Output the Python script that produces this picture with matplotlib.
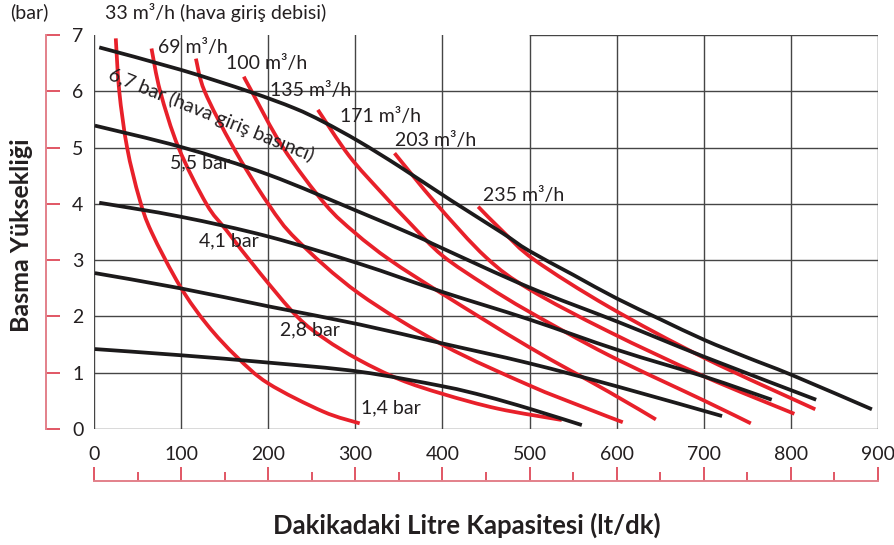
import matplotlib
matplotlib.use("Agg")
import matplotlib.pyplot as plt
from matplotlib.ticker import MultipleLocator
from matplotlib.path import Path
from matplotlib.patches import PathPatch

plt.rcParams['font.family'] = ['Lato', 'DejaVu Sans']

# air pressure curves (bar) - black
p67_x = [6, 100, 179, 230, 263, 304, 351, 409, 469, 499, 550, 600, 650, 701, 750, 801, 893]
p67_y = [6.78, 6.38, 5.99, 5.70, 5.46, 5.11, 4.66, 4.07, 3.48, 3.17, 2.74, 2.32, 1.95, 1.58, 1.27, 0.96, 0.35]
p55_x = [1, 100, 200, 304, 371, 400, 499, 602, 701, 829]
p55_y = [5.39, 5.01, 4.52, 3.86, 3.42, 3.21, 2.52, 1.90, 1.28, 0.52]
p41_x = [6, 100, 200, 304, 401, 499, 602, 701, 778]
p41_y = [4.02, 3.77, 3.42, 2.94, 2.43, 1.95, 1.40, 0.93, 0.52]
p28_x = [1, 99, 200, 304, 400, 499, 602, 721]
p28_y = [2.77, 2.50, 2.18, 1.86, 1.52, 1.17, 0.75, 0.23]
p14_x = [1, 100, 200, 304, 400, 450, 500, 560]
p14_y = [1.42, 1.31, 1.18, 1.02, 0.76, 0.58, 0.36, 0.07]

# air consumption curves (m3/h) - red
f33_x = [25, 29, 38, 52, 66, 99, 130, 164, 200, 263, 305]
f33_y = [6.94, 6.0, 5.0, 4.1, 3.5, 2.53, 1.85, 1.28, 0.81, 0.31, 0.10]
f69_x = [66, 76, 97, 129, 152, 190, 233, 265, 304, 351, 401, 464, 537]
f69_y = [6.76, 6.0, 5.0, 4.0, 3.53, 2.78, 2.0, 1.60, 1.23, 0.88, 0.62, 0.36, 0.16]
f100_x = [117, 127, 160, 200, 233, 304, 401, 499, 560, 607]
f100_y = [6.58, 6.0, 5.0, 4.0, 3.36, 2.41, 1.49, 0.78, 0.40, 0.12]
f135_x = [172, 181, 217, 265, 300, 340, 400, 500, 591, 645]
f135_y = [6.26, 6.0, 5.0, 4.0, 3.48, 3.0, 2.40, 1.45, 0.66, 0.17]
f171_x = [257, 293, 330, 365, 400, 450, 500, 591, 701, 754]
f171_y = [5.67, 4.85, 4.2, 3.62, 3.08, 2.55, 2.08, 1.31, 0.50, 0.10]
f203_x = [345, 393, 450, 500, 591, 701, 804]
f203_y = [4.90, 4.0, 3.05, 2.48, 1.73, 0.93, 0.27]
f235_x = [441, 470, 506, 591, 701, 828]
f235_y = [3.95, 3.50, 3.0, 2.17, 1.26, 0.35]

black_curves = [(p67_x, p67_y), (p55_x, p55_y), (p41_x, p41_y), (p28_x, p28_y), (p14_x, p14_y)]
red_curves = [(f33_x, f33_y), (f69_x, f69_y), (f100_x, f100_y), (f135_x, f135_y),
              (f171_x, f171_y), (f203_x, f203_y), (f235_x, f235_y)]

xticks = list(range(0, 1000, 100))
yticks = list(range(0, 8))

# labels: (text, x, y)
flow_labels = [("69 m³/h", 73, 6.78), ("100 m³/h", 152, 6.49), ("135 m³/h", 202, 6.02),
               ("171 m³/h", 282, 5.55), ("203 m³/h", 346, 5.13), ("235 m³/h", 446, 4.14)]
bar_labels = [("5,5 bar", 87, 4.72), ("4,1 bar", 120, 3.34), ("2,8 bar", 214, 1.76), ("1,4 bar", 307, 0.37)]

RED = '#e8202a'
BLACK = '#1c1a1b'
GRID = '#454545'
AXRED = '#e3808a'
TICKRED = '#d8283a'
TXT = '#231f20'


def smooth_path(xs, ys):
    # catmull-rom through the read points, drawn as cubic bezier segments
    pts = list(zip(xs, ys))
    verts = [pts[0]]
    codes = [Path.MOVETO]
    n = len(pts)
    for i in range(n - 1):
        p0 = pts[i - 1] if i > 0 else pts[i]
        p1 = pts[i]
        p2 = pts[i + 1]
        p3 = pts[i + 2] if i + 2 < n else pts[i + 1]
        c1 = (p1[0] + (p2[0] - p0[0]) / 6, p1[1] + (p2[1] - p0[1]) / 6)
        c2 = (p2[0] - (p3[0] - p1[0]) / 6, p2[1] - (p3[1] - p1[1]) / 6)
        verts += [c1, c2, p2]
        codes += [Path.CURVE4] * 3
    return Path(verts, codes)


fig = plt.figure(figsize=(8.95, 5.45), dpi=100)
ax = fig.add_axes([94/895, 1 - 429/545, 784/895, 394/545])
ax.set_xlim(0, 900)
ax.set_ylim(0, 7)

# grid drawn by hand (no top line on the left part)
for xv in xticks:
    ax.plot([xv, xv], [0, 7], color=GRID, lw=1.0, zorder=1)
for yv in yticks[:-1]:
    ax.plot([0, 900], [yv, yv], color=GRID, lw=1.0, zorder=1)
ax.plot([500, 900], [7, 7], color=GRID, lw=1.0, zorder=1)

for cx, cy in red_curves:
    ax.add_patch(PathPatch(smooth_path(cx, cy), facecolor='none', edgecolor=RED,
                           lw=2.7, capstyle='butt', zorder=3))
for cx, cy in black_curves:
    ax.add_patch(PathPatch(smooth_path(cx, cy), facecolor='none', edgecolor=BLACK,
                           lw=2.7, capstyle='butt', zorder=4))

for t, x, y in flow_labels:
    ax.text(x, y, t, fontsize=14, color=TXT, ha='left', va='center', zorder=5)
for t, x, y in bar_labels:
    ax.text(x, y, t, fontsize=14, color=TXT, ha='left', va='center', zorder=5)
ax.text(18, 6.31, "6,7 bar (hava giriş basıncı)", fontsize=14, color=TXT, rotation=-22,
        rotation_mode='anchor', ha='left', va='center', zorder=5)

# red offset axes
for s in ('top', 'right'):
    ax.spines[s].set_visible(False)
ax.spines['left'].set_position(('outward', 48 * 0.72))
ax.spines['bottom'].set_position(('outward', 52 * 0.72))
ax.spines['left'].set_bounds(0, 7)
ax.spines['bottom'].set_bounds(0, 900)
for s in ('left', 'bottom'):
    ax.spines[s].set_color(AXRED)
    ax.spines[s].set_linewidth(1.4)

ax.set_xticks(xticks)
ax.set_yticks(yticks)
ax.xaxis.set_minor_locator(MultipleLocator(50))
ax.tick_params(axis='both', which='major', direction='in', length=10, width=1.1,
               color=TICKRED, labelsize=14, labelcolor=TXT)
ax.tick_params(axis='x', which='minor', direction='in', length=6.5, width=1.1, color=TICKRED)
ax.tick_params(axis='y', which='minor', left=False)
ax.tick_params(axis='x', which='major', pad=-25.5)
ax.tick_params(axis='y', which='major', pad=-27)

fig.text(29/895, 1 - 12/545, "(bar)", fontsize=14, color=TXT, ha='center', va='center')
fig.text(105/895, 1 - 12/545, "33 m³/h (hava giriş debisi)", fontsize=14, color=TXT,
         ha='left', va='center')
fig.text(467/895, 1 - 525/545, "Dakikadaki Litre Kapasitesi (lt/dk)", fontsize=18.5,
         fontweight='bold', color=TXT, ha='center', va='center')
fig.text(22/895, 1 - 235/545, "Basma Yüksekliği", fontsize=18, fontweight='bold',
         color=TXT, ha='center', va='center', rotation=90)

fig.savefig('out.png', dpi=100)
